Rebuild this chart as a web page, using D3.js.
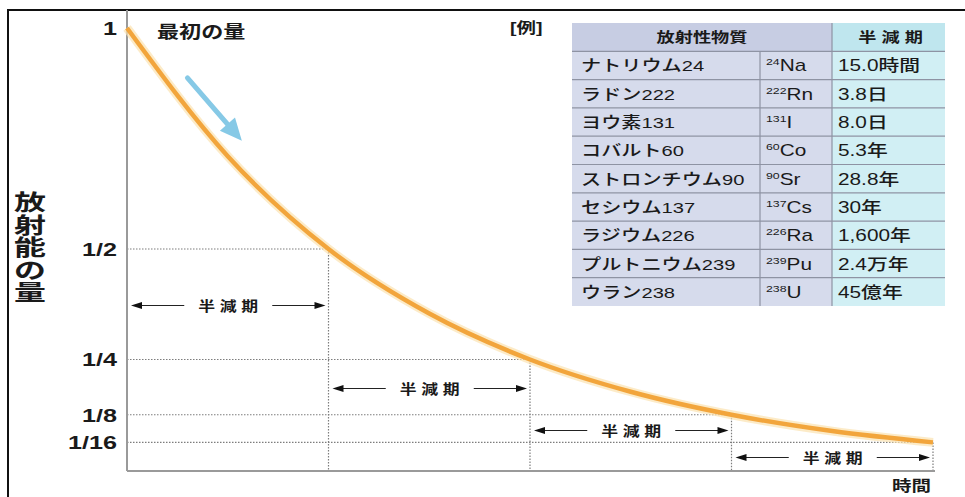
<!DOCTYPE html>
<html>
<head>
<meta charset="utf-8">
<script src="https://cdn.jsdelivr.net/npm/d3@7"></script>
<style>
  html, body { margin: 0; padding: 0; background: #fff; overflow: hidden; }
  text { font-family: 'Liberation Sans', 'Noto Sans CJK JP', sans-serif; fill: #1a1a1a; }
</style>
</head>
<body>
<svg id="chart" width="965" height="497"></svg>
<script>
// decay curve (time in half-lives, remaining fraction)
const decayT = [0, 0.5, 1, 1.5, 2, 2.5, 3, 3.5, 4];
const decayV = [1, 0.71, 0.5, 0.354, 0.25, 0.177, 0.125, 0.088, 0.0625];

// y ticks
const tickValues = [1, 1/2, 1/4, 1/8, 1/16];
const tickLabels = ["1", "1/2", "1/4", "1/8", "1/16"];

// half-life marks
const halfT = [1, 2, 3, 4];
const halfV = [0.5, 0.25, 0.125, 0.0625];

// example table
const names = ["ナトリウム24", "ラドン222", "ヨウ素131", "コバルト60", "ストロンチウム90", "セシウム137", "ラジウム226", "プルトニウム239", "ウラン238"];
const massNumbers = ["24", "222", "131", "60", "90", "137", "226", "239", "238"];
const symbols = ["Na", "Rn", "I", "Co", "Sr", "Cs", "Ra", "Pu", "U"];
const halfLives = ["15.0時間", "3.8日", "8.0日", "5.3年", "28.8年", "30年", "1,600年", "2.4万年", "45億年"];

const svg = d3.select("#chart");
const SX = 1.35; // the lettering in the picture is stretched wide

const x = d3.scaleLinear().domain([0, 4]).range([127, 933]);
const y = d3.scaleLinear().domain([0, 1]).range([470, 28]);

// outer frame (only top and left visible)
svg.append("rect")
    .attr("x", 8).attr("y", 10)
    .attr("width", 1000).attr("height", 600)
    .attr("fill", "none").attr("stroke", "#111").attr("stroke-width", 2);

function wideText(g, px, py, str, size, anchor, weight, sx) {
    return g.append("text")
        .attr("transform", `translate(${px},${py}) scale(${sx || SX},1)`)
        .attr("text-anchor", anchor || "start")
        .style("font-size", size + "px")
        .style("font-weight", weight || "normal")
        .text(str);
}

// dotted guides
const guides = svg.append("g")
    .attr("stroke", "#7d7d7d")
    .attr("stroke-width", 1.2)
    .attr("stroke-dasharray", "1.5,1.5")
    .attr("fill", "none");

halfT.forEach((t, i) => {
    guides.append("line")
        .attr("x1", x(0)).attr("x2", x(t))
        .attr("y1", y(halfV[i])).attr("y2", y(halfV[i]));
    guides.append("line")
        .attr("x1", x(t)).attr("x2", x(t))
        .attr("y1", y(halfV[i])).attr("y2", y(0));
});

// axes lines
svg.append("line")
    .attr("x1", x(0)).attr("x2", x(0))
    .attr("y1", 10).attr("y2", y(0) + 1)
    .attr("stroke", "#9a9a9a").attr("stroke-width", 2);
svg.append("line")
    .attr("x1", x(0)).attr("x2", x(4) + 2)
    .attr("y1", y(0) + 1).attr("y2", y(0) + 1)
    .attr("stroke", "#9a9a9a").attr("stroke-width", 2);

// y tick labels
const yAxis = svg.append("g")
    .attr("transform", `translate(${x(0)},0)`)
    .call(d3.axisLeft(y)
        .tickValues(tickValues)
        .tickFormat((d, i) => tickLabels[i])
        .tickSize(0)
        .tickPadding(0));
yAxis.select(".domain").remove();
yAxis.selectAll("text")
    .attr("x", -10 / 1.4)
    .attr("dy", "0.36em")
    .attr("transform", "scale(1.4,1)")
    .style("font-size", "18px")
    .style("font-weight", "bold")
    .style("font-family", "'Liberation Sans', 'Noto Sans CJK JP', sans-serif")
    .attr("fill", "#1a1a1a");

// decay curve
const line = d3.line()
    .x((d, i) => x(decayT[i]))
    .y(d => y(d))
    .curve(d3.curveMonotoneX);
svg.append("path")
    .attr("d", line(decayV))
    .attr("fill", "none")
    .attr("stroke", "#fbe2b0")
    .attr("stroke-width", 9)
    .attr("stroke-opacity", 0.7);
svg.append("path")
    .attr("d", line(decayV))
    .attr("fill", "none")
    .attr("stroke", "#f2a53c")
    .attr("stroke-width", 4.5);

// blue arrow (annotation, in data coordinates)
const blueFrom = [0.3, 0.887], blueTo = [0.57, 0.745];
{
    const x1 = x(blueFrom[0]), y1 = y(blueFrom[1]);
    const x2 = x(blueTo[0]), y2 = y(blueTo[1]);
    const ang = Math.atan2(y2 - y1, x2 - x1) * 180 / Math.PI;
    const len = Math.hypot(x2 - x1, y2 - y1);
    const ga = svg.append("g").attr("transform", `translate(${x1},${y1}) rotate(${ang})`);
    ga.append("line").attr("x1", 0).attr("y1", 0).attr("x2", len - 16).attr("y2", 0)
        .attr("stroke", "#86c9e6").attr("stroke-width", 5).attr("stroke-linecap", "round");
    ga.append("path").attr("d", `M${len},0 L${len - 22},-10 L${len - 22},10 Z`).attr("fill", "#86c9e6");
}

// half-life span arrows
halfT.forEach((t, k) => {
    const lo = k + 1 < halfV.length ? halfV[k + 1] : 0;
    const yy = Math.round((y(halfV[k]) + y(lo)) / 2) + 1.5;
    const xa = x(t - 1) + 4, xb = x(t) - 3;
    const xm = (xa + xb) / 2;
    const g = svg.append("g");
    const half = 36;
    g.append("line").attr("x1", xa + 8).attr("x2", xm - half - 8).attr("y1", yy).attr("y2", yy)
        .attr("stroke", "#222").attr("stroke-width", 1);
    g.append("line").attr("x1", xm + half + 8).attr("x2", xb - 8).attr("y1", yy).attr("y2", yy)
        .attr("stroke", "#222").attr("stroke-width", 1);
    g.append("path").attr("d", `M${xa},${yy} L${xa + 11},${yy - 3.5} L${xa + 11},${yy + 3.5} Z`).attr("fill", "#111");
    g.append("path").attr("d", `M${xb},${yy} L${xb - 11},${yy - 3.5} L${xb - 11},${yy + 3.5} Z`).attr("fill", "#111");
    wideText(g, xm, yy + 5, "半 減 期", 13.5, "middle", "bold", 1.25);
});

// labels
wideText(svg, 157, 38, "最初の量", 17, "start", "bold", 1.3);
wideText(svg, 931, 491, "時間", 15, "end", "bold", 1.3);

const yl = svg.append("g");
"放射能の量".split("").forEach((c, i) => {
    wideText(yl, 30, 210 + i * 22.5, c, 22, "middle", "bold", 1.45);
});

// example table
wideText(svg, 510, 33, "[例]", 15, "start", "bold", 1.3);

const colX = [572, 760, 832, 945];
const row = d3.scaleLinear().domain([0, 10]).range([23, 306]);
const tbl = svg.append("g");

for (let r = 0; r < 10; r++) {
    tbl.append("rect")
        .attr("x", colX[0]).attr("y", row(r))
        .attr("width", colX[2] - colX[0]).attr("height", row(r + 1) - row(r))
        .attr("fill", r === 0 ? "#c7cde3" : "#d6dbec");
    tbl.append("rect")
        .attr("x", colX[2]).attr("y", row(r))
        .attr("width", colX[3] - colX[2]).attr("height", row(r + 1) - row(r))
        .attr("fill", r === 0 ? "#bfe6ee" : "#d1eff4");
}
for (let r = 1; r < 10; r++) {
    tbl.append("line")
        .attr("x1", colX[0]).attr("x2", colX[3])
        .attr("y1", row(r)).attr("y2", row(r))
        .attr("stroke", "#8e93a3").attr("stroke-width", 1.2);
}
tbl.append("line")
    .attr("x1", colX[1]).attr("x2", colX[1])
    .attr("y1", row(1)).attr("y2", row(10))
    .attr("stroke", "#8e93a3").attr("stroke-width", 1.2);
tbl.append("line")
    .attr("x1", colX[2]).attr("x2", colX[2])
    .attr("y1", row(0)).attr("y2", row(10))
    .attr("stroke", "#8e93a3").attr("stroke-width", 1.2);

const mid = r => (row(r) + row(r + 1)) / 2;
wideText(tbl, (colX[0] + colX[2]) / 2, mid(0) + 5, "放射性物質", 14, "middle", "bold", 1.3);
wideText(tbl, (colX[2] + colX[3]) / 2 + 2, mid(0) + 5, "半 減 期", 14, "middle", "bold", 1.3);

names.forEach((n, i) => {
    const cy = mid(i + 1) + 6;
    wideText(tbl, 581, cy, n, 15.5, "start", 500, 1.3);
    const iso = tbl.append("text")
        .attr("transform", `translate(766,${cy}) scale(1.3,1)`)
        .style("font-weight", 500);
    iso.append("tspan").attr("dy", -6).style("font-size", "9.5px").text(massNumbers[i]);
    iso.append("tspan").attr("dy", 6).style("font-size", "16px").text(symbols[i]);
    wideText(tbl, 838, cy, halfLives[i], 16, "start", 500, 1.3);
});
</script>
</body>
</html>
